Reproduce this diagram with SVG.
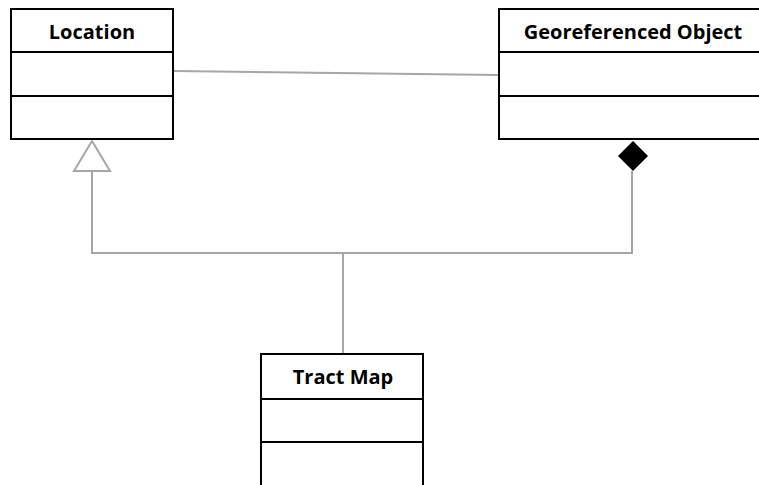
<svg xmlns="http://www.w3.org/2000/svg" width="759" height="485" viewBox="0 0 759 485">
  <style>
    .box { fill: #ffffff; stroke: #000000; stroke-width: 2; }
    .div { stroke: #000000; stroke-width: 2; }
    .title { font-family: "Open Sans", "Noto Sans", "DejaVu Sans", sans-serif; font-weight: bold; font-size: 20px; fill: #000000; text-anchor: middle; }
    .conn { fill: none; stroke: #a6a6a6; stroke-width: 2; }
  </style>
  <rect width="759" height="485" fill="#ffffff"/>

  <!-- connectors -->
  <g id="connectors">
    <path class="conn" d="M173,71 L499,75"/>
    <path class="conn" d="M92,171 L92,253 L632,253 L632,171"/>
    <path class="conn" d="M343,253 L343,354"/>
    <!-- generalization triangle -->
    <polygon points="92,141 74,171 110,171" fill="#ffffff" stroke="#a6a6a6" stroke-width="2"/>
    <!-- composition diamond -->
    <polygon points="633,141 648,156 633,171 618,156" fill="#000000"/>
  </g>

  <!-- class: Location -->
  <g id="location">
    <rect class="box" x="11" y="9" width="162" height="130"/>
    <line class="div" x1="11" y1="52" x2="173" y2="52"/>
    <line class="div" x1="11" y1="96" x2="173" y2="96"/>
    <text class="title" x="92" y="39">Location</text>
  </g>

  <!-- class: Georeferenced Object -->
  <g id="georeferenced-object">
    <rect class="box" x="499" y="9" width="270" height="130"/>
    <line class="div" x1="499" y1="52" x2="769" y2="52"/>
    <line class="div" x1="499" y1="96" x2="769" y2="96"/>
    <text class="title" x="633" y="39">Georeferenced Object</text>
  </g>

  <!-- class: Tract Map -->
  <g id="tract-map">
    <rect class="box" x="261" y="354" width="162" height="140"/>
    <line class="div" x1="261" y1="399" x2="423" y2="399"/>
    <line class="div" x1="261" y1="442" x2="423" y2="442"/>
    <text class="title" x="343" y="384">Tract Map</text>
  </g>
</svg>
